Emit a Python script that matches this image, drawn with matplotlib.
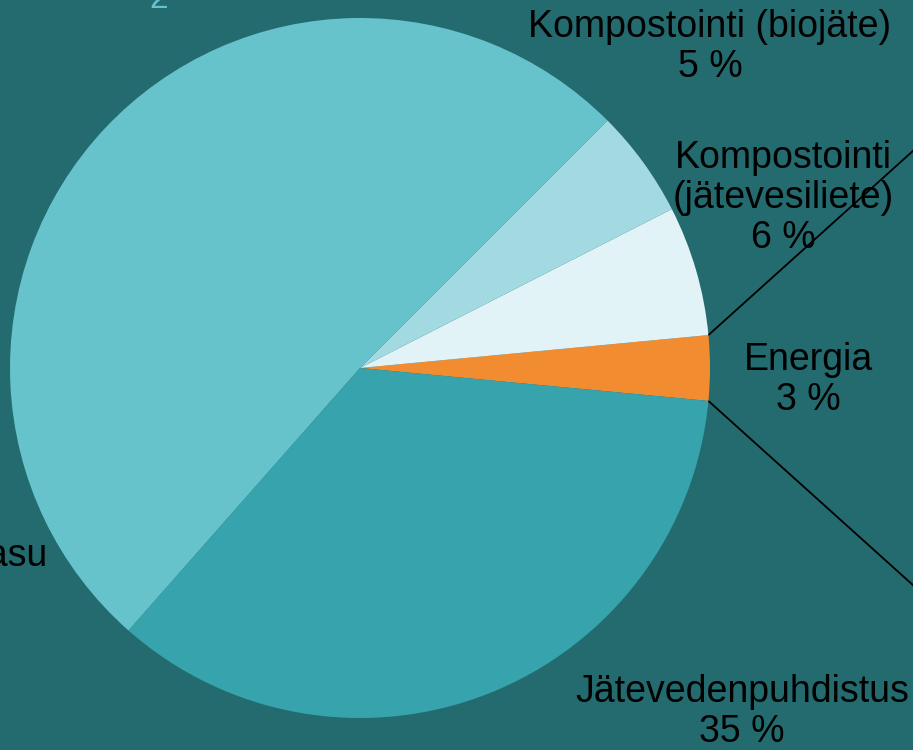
import numpy as np
import matplotlib.pyplot as plt

# pie slices (order counter-clockwise from the right)
labels = ['Energia', 'Kompostointi\n(jätevesiliete)', 'Kompostointi (biojäte)',
          'Kaatopaikkakaasu', 'Jätevedenpuhdistus']
values = [3, 6, 5, 51, 35]
colors = ['#F28C30', '#E1F3F6', '#A3DAE2', '#66C3CC', '#37A3AD']

# where each label sits (data units, pie radius = 1) and its horizontal anchor
label_pos = [(1.28, -0.034), (1.209, 0.486), (1.0, 0.917), (-0.891, -0.594), (1.091, -0.983)]
label_ha = ['center', 'center', 'center', 'right', 'center']

plt.rcParams['font.family'] = ['Liberation Sans', 'DejaVu Sans']

fig = plt.figure(figsize=(9.13, 7.5), dpi=100)
fig.patch.set_facecolor('#246B70')
ax = fig.add_axes([0, 0, 1, 1])
ax.set_facecolor('#246B70')

# put Energia centred on the horizontal axis
start = -values[0] / sum(values) * 360 / 2
wedges, _ = ax.pie(values, colors=colors, startangle=start, counterclock=True,
                   radius=1, center=(0, 0), wedgeprops=dict(linewidth=0))

for lab, v, (x, y), ha in zip(labels, values, label_pos, label_ha):
    ax.text(x, y, f'{lab}\n{v} %', ha=ha, va='center', multialignment='center',
            fontsize=27, color='black', linespacing=1.15)

# pie-of-pie connector lines from the Energia slice
w = wedges[0]
for th, sign in [(w.theta2, 1), (w.theta1, -1)]:
    x0, y0 = np.cos(np.radians(th)), np.sin(np.radians(th))
    ang = np.radians(42 * sign)
    ax.plot([x0, x0 + 2 * np.cos(ang)], [y0, y0 + 2 * np.sin(ang)],
            color='black', lw=1.3, solid_capstyle='butt')

# cut-off title fragment at the top
ax.text(-0.574, 1.03, '2', ha='center', va='baseline', fontsize=24, color='#66C3CC')

ax.set_xlim(-360 / 350, 553 / 350)
ax.set_ylim(-382 / 350, 368 / 350)
ax.set_aspect('equal')
ax.axis('off')

fig.savefig('out.png', dpi=100, facecolor=fig.get_facecolor())
